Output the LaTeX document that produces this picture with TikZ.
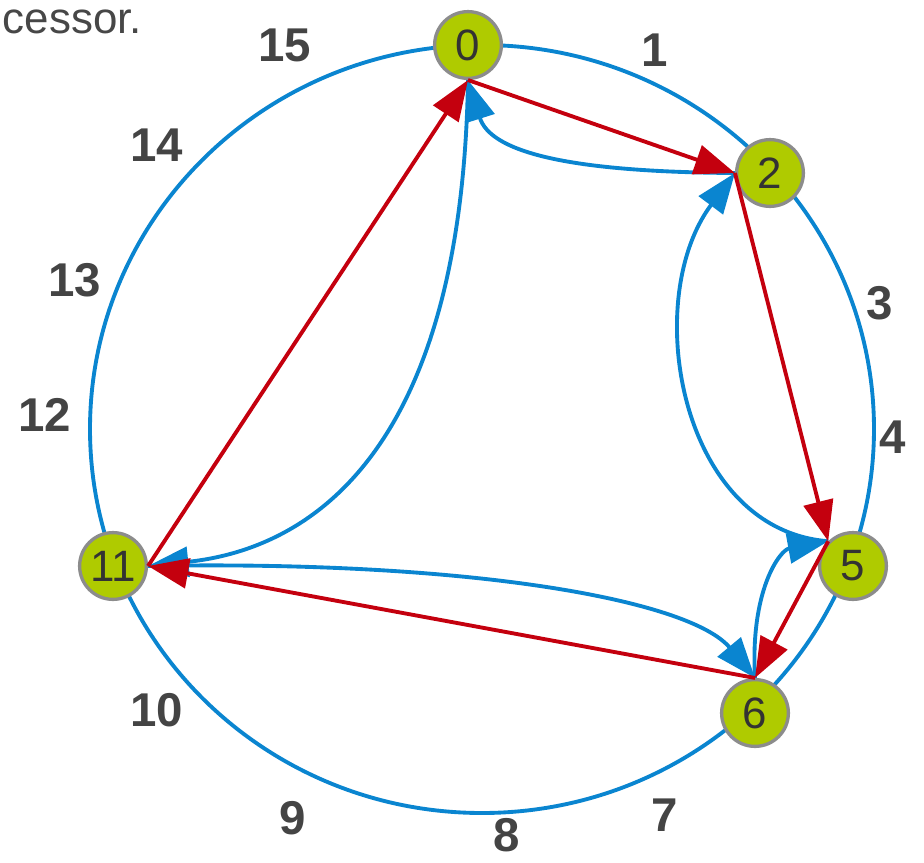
\documentclass[tikz,border=0pt]{standalone}
\usepackage{fontspec}
\setmainfont{Liberation Sans}
\usetikzlibrary{arrows.meta}
\definecolor{ringblue}{HTML}{0A85D0}
\definecolor{succred}{HTML}{C4000E}
\definecolor{peergreen}{HTML}{AFCB00}
\definecolor{labelgray}{HTML}{444444}
\begin{document}
\begin{tikzpicture}[x=0.02cm, y=-0.02cm, line width=2.2pt,
    >={Triangle[length=23pt,width=17pt]},
    peer/.style={circle, draw=gray!90, fill=peergreen, minimum size=38pt, inner sep=0pt, line width=1.9pt, text=black!80, font=\fontsize{25}{25}\selectfont},
    idlabel/.style={text=labelgray, inner sep=1pt, font=\fontsize{27}{27}\selectfont\bfseries},
    succ/.style={->, succred},
    pred/.style={->, ringblue}]
  \useasboundingbox (0,0) rectangle (924,863);
  % identifier ring
  \node[anchor=base west, inner sep=0pt, text=black!72, font=\fontsize{25}{25}\selectfont] (caption) at (1,33) {cessor.};
  \draw[ringblue] (482,429) ellipse[x radius=392, y radius=384];
  \node[peer] (n0) at (468,45) {0};
  \node[peer] (n2) at (770,173) {2};
  \node[peer] (n5) at (853,566) {5};
  \node[peer] (n6) at (755,713) {6};
  \node[peer] (n11) at (113,566) {11};

  \node[idlabel] (id15) at (285,45) {15};
  \node[idlabel] (id1) at (655,50) {1};
  \node[idlabel] (id14) at (157,145) {14};
  \node[idlabel] (id13) at (75,280) {13};
  \node[idlabel] (id3) at (880,303) {3};
  \node[idlabel] (id12) at (45,415) {12};
  \node[idlabel] (id4) at (893,437) {4};
  \node[idlabel] (id10) at (157,710) {10};
  \node[idlabel] (id9) at (293,818) {9};
  \node[idlabel] (id7) at (665,815) {7};
  \node[idlabel] (id8) at (507,835) {8};

  % predecessor pointers
  \draw[pred] (n0.south) .. controls (462,440) and (320,548) .. (n11.east);
  \draw[pred] (n2.west) .. controls (560,172) and (490,150) .. (n0.south);
  \draw[pred] (n5.135) .. controls (680,530) and (640,300) .. (n2.west);
  \draw[pred] (n6.north) .. controls (750,590) and (780,550) .. (n5.135);
  \draw[pred] (n11.east) .. controls (470,560) and (690,600) .. (n6.north);

  % successor pointers
  \draw[succ] (n0.south) -- (n2.west);
  \draw[succ] (n2.west) -- (n5.135);
  \draw[succ] (n5.135) -- (n6.north);
  \draw[succ] (n6.north) -- (n11.east);
  \draw[succ] (n11.east) -- (n0.south);
\end{tikzpicture}
\end{document}
